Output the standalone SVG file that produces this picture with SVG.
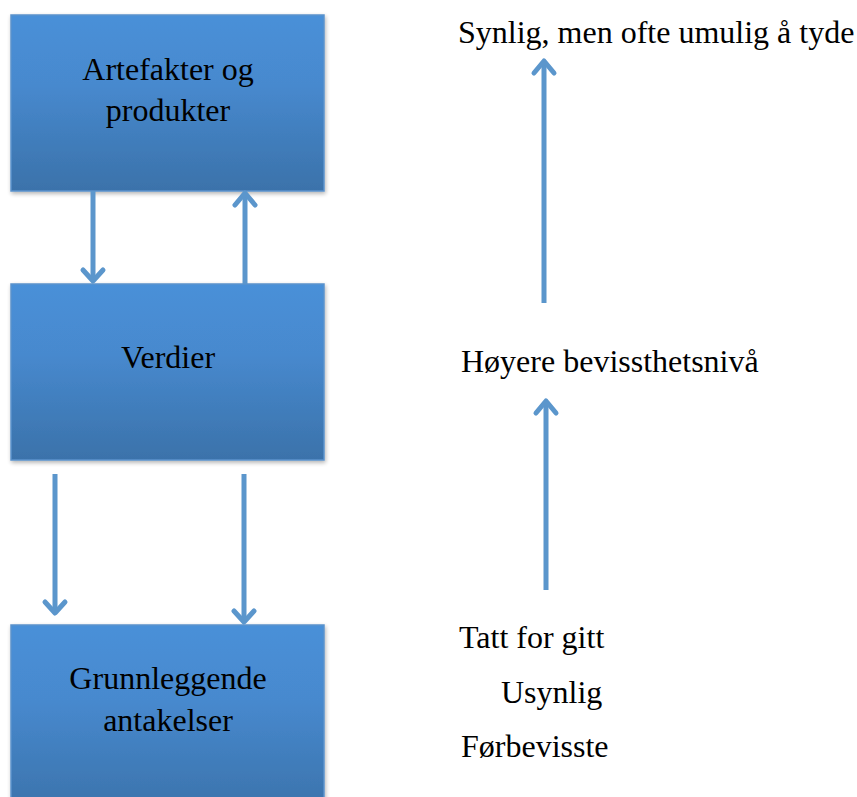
<svg xmlns="http://www.w3.org/2000/svg" width="857" height="797" viewBox="0 0 857 797">
<style>
.box{fill:url(#g);stroke:#5b93cc;stroke-width:1.5}
.t{font-size:32px;fill:#000}
.c{text-anchor:middle}
.a{fill:none;stroke:#5b96cc;stroke-width:5;stroke-linecap:round;stroke-linejoin:round}
.s{fill:none;stroke:#5b96cc;stroke-width:5}
</style>
<defs>
<linearGradient id="g" x1="0" y1="0" x2="0" y2="1">
<stop offset="0" stop-color="#4990d8"/>
<stop offset="0.4" stop-color="#4789ce"/>
<stop offset="1" stop-color="#3b72aa"/>
</linearGradient>
<filter id="sh" x="-5%" y="-5%" width="115%" height="115%">
<feGaussianBlur in="SourceAlpha" stdDeviation="2"/>
<feOffset dx="1" dy="2"/>
<feComponentTransfer><feFuncA type="linear" slope="0.3"/></feComponentTransfer>
<feMerge><feMergeNode/><feMergeNode in="SourceGraphic"/></feMerge>
</filter>
</defs>
<g id="node-artefakter">
<rect class="box" x="11" y="15" width="313" height="176" filter="url(#sh)"/>
<text class="t c" font-family="'Liberation Serif', serif" x="168" y="80">Artefakter og</text>
<text class="t c" font-family="'Liberation Serif', serif" x="168" y="121">produkter</text>
</g>
<g id="node-verdier">
<rect class="box" x="11" y="284" width="313" height="176" filter="url(#sh)"/>
<text class="t c" font-family="'Liberation Serif', serif" x="168" y="368">Verdier</text>
</g>
<g id="node-grunnleggende">
<rect class="box" x="11" y="625" width="313" height="190" filter="url(#sh)"/>
<text class="t c" font-family="'Liberation Serif', serif" x="168" y="689">Grunnleggende</text>
<text class="t c" font-family="'Liberation Serif', serif" x="168" y="731">antakelser</text>
</g>
<g id="labels">
<text class="t" font-family="'Liberation Serif', serif" x="458" y="43">Synlig, men ofte umulig å tyde</text>
<text class="t" font-family="'Liberation Serif', serif" x="461" y="372">Høyere bevissthetsnivå</text>
<text class="t" font-family="'Liberation Serif', serif" x="459" y="648">Tatt for gitt</text>
<text class="t" font-family="'Liberation Serif', serif" x="501" y="703">Usynlig</text>
<text class="t" font-family="'Liberation Serif', serif" x="461" y="757">Førbevisste</text>
</g>
<g id="connectors">
<path class="s" d="M93 191V281"/><path class="a" d="M83 270L93 281L103 270"/>
<path class="s" d="M245 284V194"/><path class="a" d="M235 205L245 193L255 205"/>
<path class="s" d="M55 474V613"/><path class="a" d="M45 602L55 613L65 602"/>
<path class="s" d="M244 474V622"/><path class="a" d="M234 611L244 622L254 611"/>
<path class="s" d="M544 303V62"/><path class="a" d="M534 73L544 61L554 73"/>
<path class="s" d="M546 590V402"/><path class="a" d="M536 413L546 401L556 413"/>
</g>
</svg>
